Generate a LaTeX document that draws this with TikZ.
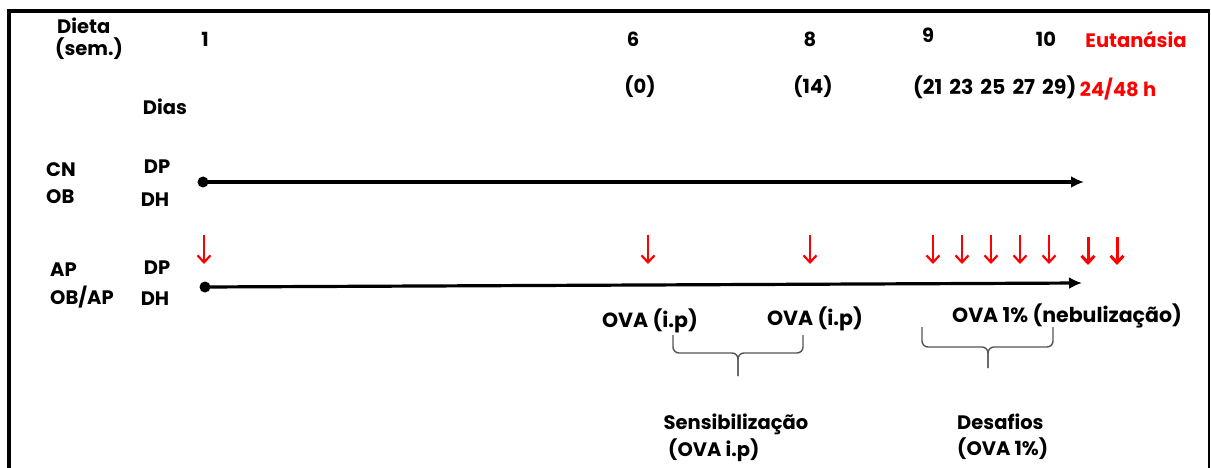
\documentclass[tikz,border=0pt]{standalone}
\usepackage{fontspec}
\setmainfont{Poppins}
\usetikzlibrary{arrows.meta}
\definecolor{redmark}{RGB}{255,0,0}
\definecolor{bracegray}{RGB}{85,85,85}
\begin{document}
\begin{tikzpicture}[x=1pt,y=-1pt,
  lbl/.style={inner sep=0pt,font=\fontsize{19.5}{22}\selectfont\bfseries},
  biglbl/.style={inner sep=0pt,font=\fontsize{20.5}{23}\selectfont\bfseries},
  redlbl/.style={lbl,text=redmark},
  dot/.style={circle,fill=black,inner sep=0pt,minimum size=11pt},
  timeline/.style={line width=3.2pt,-{Latex[length=13pt,width=12pt]}},
  redarrow/.style={draw=redmark,line width=2.2pt,-{Straight Barb[length=7pt,width=13pt]}},
  redarrowb/.style={draw=redmark,line width=3pt,-{Straight Barb[length=7pt,width=13pt]}},
  bracestyle/.style={draw=bracegray,line width=1.4pt,rounded corners=6pt}]
\useasboundingbox (0,0) rectangle (1211,468);
% frame
\draw[line width=4pt] (9,470) -- (9,11.5) -- (1210,11.5);
\draw[line width=2.2pt] (1209,11.5) -- (1209,470);
% header
\node[lbl,anchor=west] (dieta) at (57,26) {Dieta};
\node[lbl,anchor=west] (sem) at (55,49) {(sem.)};
\node[lbl] (w1) at (205,39) {1};
\node[lbl] (w6) at (633,39) {6};
\node[lbl] (w8) at (810,39) {8};
\node[lbl] (w9) at (928,35) {9};
\node[lbl] (w10) at (1046,39) {10};
\node[redlbl] (eut) at (1136,39) {Eutanásia};
\node[lbl] (d0) at (640,87) {(0)};
\node[lbl] (d14) at (813,87) {(14)};
\node[biglbl,anchor=west] (d21) at (913,87) {(21\hspace{7pt}23\hspace{7pt}25\hspace{7pt}27\hspace{7pt}29)};
\node[redlbl] (h48) at (1118,89) {24/48 h};
\node[lbl] (dias) at (165,107) {Dias};
% group 1
\node[lbl,anchor=west] (cn) at (46,170) {CN};
\node[lbl,anchor=west] (ob) at (46,197) {OB};
\node[lbl] (dp1) at (157,167) {DP};
\node[lbl] (dh1) at (155,200) {DH};
\node[dot] (s1) at (203,182) {};
\coordinate (e1) at (1084,182);
\draw[timeline] (s1.center) -- (e1);
% group 2
\node[lbl,anchor=west] (ap) at (50,270) {AP};
\node[lbl,anchor=west] (obap) at (50,297) {OB/AP};
\node[lbl] (dp2) at (157,268) {DP};
\node[lbl] (dh2) at (155,299) {DH};
\node[dot] (s2) at (205,287) {};
\coordinate (e2) at (1082,283);
\draw[timeline] (s2.center) -- (e2);
% red arrows
\foreach \n/\x in {a/204,b/648,c/810,d/933,e/962,f/991,g/1020,h/1049}{
  \coordinate (r\n t) at (\x,235);
  \coordinate (r\n b) at (\x,264);
  \draw[redarrow] (r\n t) -- (r\n b);
}
\foreach \n/\x in {i/1088,j/1117}{
  \coordinate (r\n t) at (\x,237);
  \coordinate (r\n b) at (\x,265);
  \draw[redarrowb] (r\n t) -- (r\n b);
}
% OVA labels
\node[biglbl] (ova1) at (650,321) {OVA (i.p)};
\node[biglbl] (ova2) at (815,319) {OVA (i.p)};
\node[biglbl] (ova3) at (1067,316) {OVA 1\% (nebulização)};
% braces
\coordinate (b1l) at (673,335);
\coordinate (b1r) at (803,335);
\coordinate (b1m) at (738,353);
\coordinate (b1t) at (738,376);
\draw[bracestyle] (b1l) -- (b1l |- b1m) -- (b1m) -- (b1t);
\draw[bracestyle] (b1r) -- (b1r |- b1m) -- (b1m) -- (b1t);
\coordinate (b2l) at (922,327);
\coordinate (b2r) at (1053,327);
\coordinate (b2m) at (988,347);
\coordinate (b2t) at (988,368);
\draw[bracestyle] (b2l) -- (b2l |- b2m) -- (b2m) -- (b2t);
\draw[bracestyle] (b2r) -- (b2r |- b2m) -- (b2m) -- (b2t);
% bottom labels
\node[lbl] (sens) at (736,424) {Sensibilização};
\node[lbl,anchor=west] (sensova) at (668,450) {(OVA i.p)};
\node[lbl,anchor=west] (des) at (957,422) {Desafios};
\node[lbl,anchor=west] (desova) at (957,449) {(OVA 1\%)};
\end{tikzpicture}
\end{document}
